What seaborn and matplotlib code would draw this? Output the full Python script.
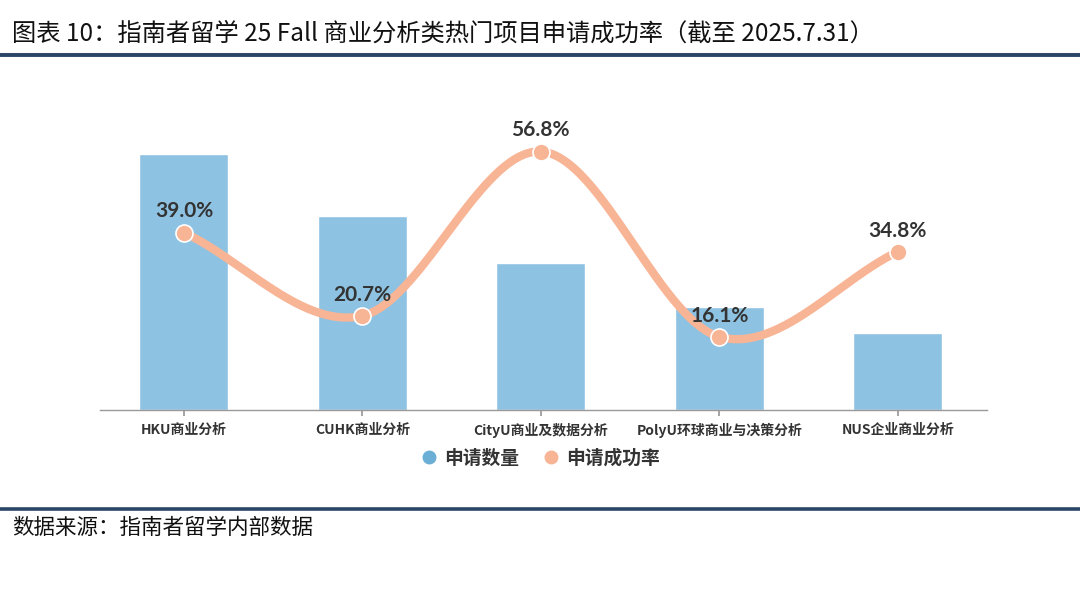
import numpy as np
import pandas as pd
import matplotlib.pyplot as plt
import seaborn as sns
from matplotlib.lines import Line2D

sns.set_theme(style="white")
plt.rcParams['font.family'] = ['Noto Sans CJK SC', 'DejaVu Sans']

# data
programs = ['HKU商业分析', 'CUHK商业分析', 'CityU商业及数据分析', 'PolyU环球商业与决策分析', 'NUS企业商业分析']
applications = [256, 194, 147, 103, 77]   # no axis shown, relative bar heights
success_rate = [39.0, 20.7, 56.8, 16.1, 34.8]

bar_color = '#8EC2E2'
line_color = '#F8B596'
navy = '#2B4566'

df = pd.DataFrame({'program': programs, 'apps': applications, 'rate': success_rate})

fig = plt.figure(figsize=(10.8, 5.98), dpi=100)
ax = fig.add_axes([100 / 1080, 188 / 598, 887 / 1080, 330 / 598])

sns.barplot(data=df, x='program', y='apps', color=bar_color, width=0.5,
            saturation=1, ax=ax, zorder=1)
ax.set_ylim(0, 330)
ax.set_xlim(-0.47, 4.5)
ax.set_xlabel('')
ax.set_ylabel('')
ax.set_yticks([])
for s in ['top', 'right', 'left']:
    ax.spines[s].set_visible(False)
ax.spines['bottom'].set_color('#999999')
ax.spines['bottom'].set_linewidth(1)
ax.tick_params(axis='x', bottom=True, length=4, color='#999999', pad=5)
for lbl in ax.get_xticklabels():
    lbl.set_fontsize(10)
    lbl.set_fontweight('bold')
    lbl.set_color('#333333')

# smooth curve through the rate points (cardinal spline)
ax2 = ax.twinx()
ax2.set_ylim(0, 330 / 4.55)
ax2.set_yticks([])
for s in ax2.spines.values():
    s.set_visible(False)

x = np.arange(len(success_rate), dtype=float)
y = np.array(success_rate)
mx = np.gradient(x)
my = np.gradient(y)
xs, ys = [], []
t = np.linspace(0, 1, 60)
h00 = 2 * t**3 - 3 * t**2 + 1
h10 = t**3 - 2 * t**2 + t
h01 = -2 * t**3 + 3 * t**2
h11 = t**3 - t**2
for i in range(len(x) - 1):
    xs.append(h00 * x[i] + h10 * mx[i] + h01 * x[i + 1] + h11 * mx[i + 1])
    ys.append(h00 * y[i] + h10 * my[i] + h01 * y[i + 1] + h11 * my[i + 1])
xs = np.concatenate(xs)
ys = np.concatenate(ys)

ax2.plot(xs, ys, color=line_color, lw=6, solid_capstyle='round', zorder=3)
sns.scatterplot(x=x, y=y, s=150, color=line_color, edgecolor='white',
                linewidth=1.2, ax=ax2, zorder=4, legend=False)
for xi, yi in zip(x, y):
    ax2.annotate(f'{yi:.1f}%', (xi, yi), xytext=(0, 8), textcoords='offset points',
                 ha='center', va='bottom', fontsize=15, fontweight='bold', color='#333333',
                 family=['Lato', 'DejaVu Sans'], zorder=5)

# legend
handles = [
    Line2D([], [], marker='o', ls='', markersize=9, color='#6BAED6'),
    Line2D([], [], marker='o', ls='', markersize=9, color=line_color),
]
leg = fig.legend(handles, ['申请数量', '申请成功率'], loc='center',
                 bbox_to_anchor=(0.5, 1 - 458 / 598), ncol=2, frameon=False,
                 prop={'size': 13.5, 'weight': 'bold'}, handletextpad=0.3,
                 columnspacing=1.2, handlelength=1.0)
for txt in leg.get_texts():
    txt.set_color('#333333')

# title, rules and source
fig.text(12 / 1080, 1 - 34 / 598, '图表 10：指南者留学 25 Fall 商业分析类热门项目申请成功率（截至 2025.7.31）',
         fontsize=17.5, va='center', ha='left', color='#111111')
fig.add_artist(Line2D([0, 1], [1 - 52.5 / 598] * 2, color='#B8C2CE', lw=0.8))
fig.add_artist(Line2D([0, 1], [1 - 55 / 598] * 2, color=navy, lw=2.8))
fig.add_artist(Line2D([0, 1], [1 - 509 / 598] * 2, color=navy, lw=2.6))
fig.text(12 / 1080, 1 - 528 / 598, '数据来源：指南者留学内部数据',
         fontsize=15.5, va='center', ha='left', color='#111111')

fig.savefig('out.png', dpi=100)
